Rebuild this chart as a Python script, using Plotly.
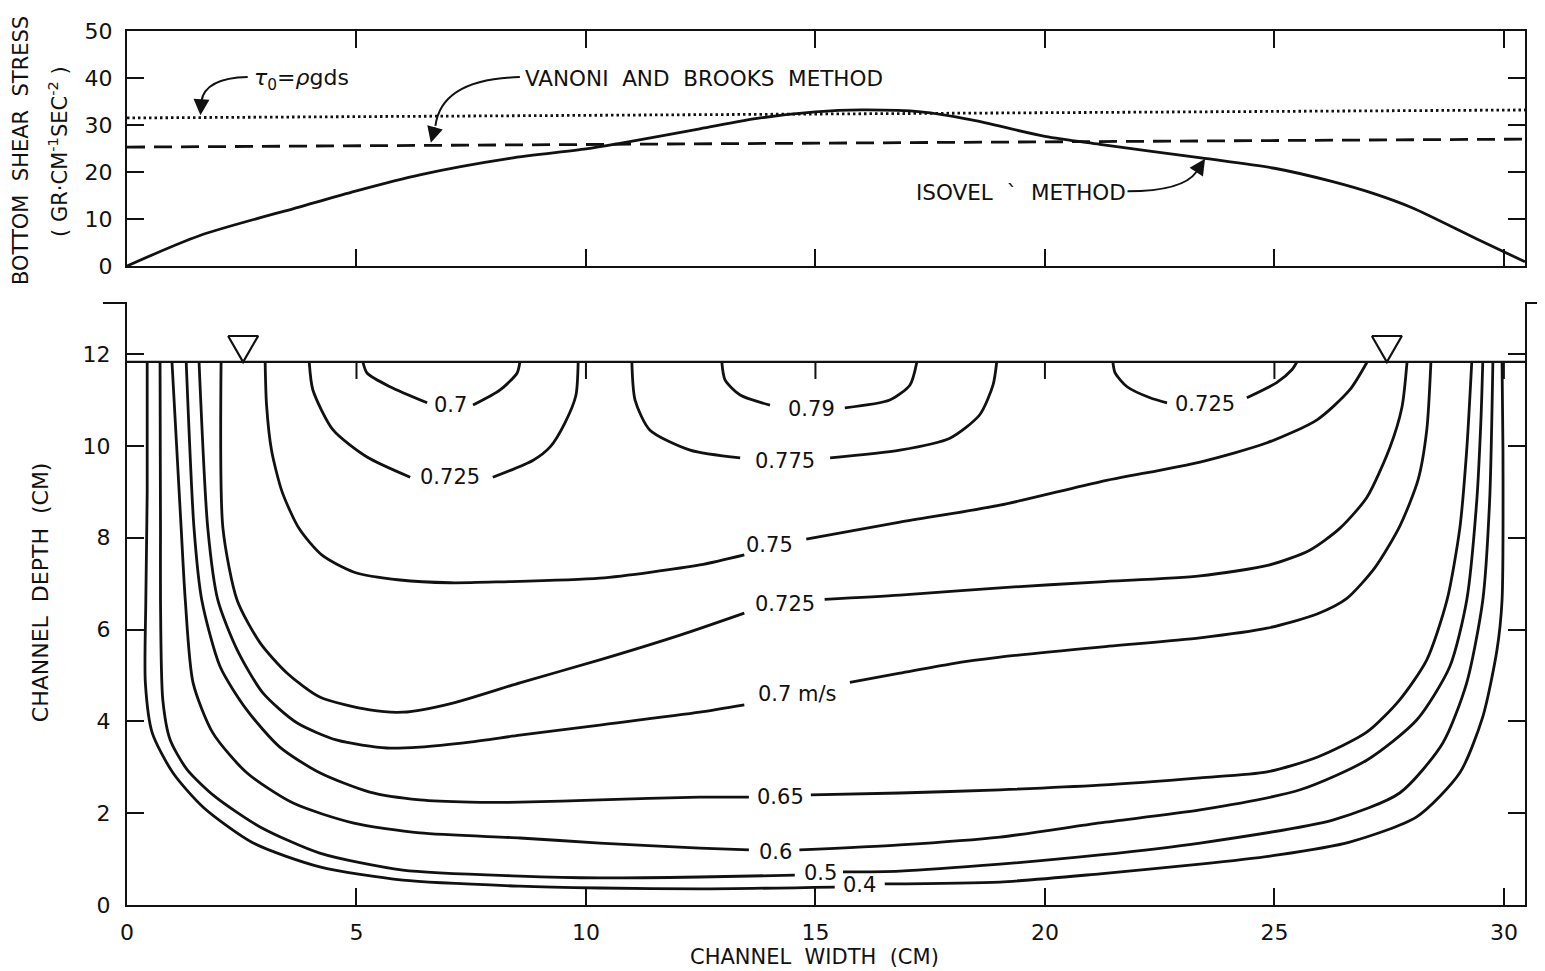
import plotly.graph_objects as go

# ---------------- data ----------------
width_ticks = [0, 5, 10, 15, 20, 25, 30]
shear_ticks = [0, 10, 20, 30, 40, 50]
depth_ticks = [0, 2, 4, 6, 8, 10, 12]
x_max = 30.46

# top panel: bottom shear stress (isovel method)
shear_x = [0, 1.59, 3.77, 5.0, 6.38, 8.34, 10.0, 10.74, 12.48, 13.8, 15.0, 16.0, 17.3, 18.4, 20.0, 21.2, 23.4, 25.0, 26.25, 27.2, 28.0, 29.4, 30.46]
shear_y = [0, 6.5, 12.6, 16.0, 19.4, 22.9, 24.9, 26.1, 29.2, 31.5, 32.8, 33.2, 32.8, 31.1, 27.6, 25.9, 23.0, 20.8, 18.0, 15.3, 12.4, 5.8, 0.9]
tau_x = [0, x_max]
tau_y = [31.5, 33.2]          # tau0 = rho g d s
vb_x = [0, x_max]
vb_y = [25.3, 27.0]           # Vanoni and Brooks method

# bottom panel: isovels (x = width cm, d = depth cm); None = gap for label
water_surface = 11.83
surface_marker_x = [2.53, 27.45]

iso_040_x = [0.44, 0.44, 0.41, 0.40, 0.55, 1.00, 1.66, 2.75, 4.20, 6.01, 8.56, 10.30, 12.48, 15.42, None,
             16.51, 19.02, 21.20, 23.38, 25.08, 26.64, 28.10, 29.04, 29.54, 29.85, 29.96, 29.98, 29.96]
iso_040_d = [11.83, 9.0, 6.64, 4.84, 3.75, 2.88, 2.13, 1.35, 0.83, 0.54, 0.41, 0.37, 0.35, 0.39, None,
             0.46, 0.50, 0.68, 0.89, 1.09, 1.37, 1.92, 2.88, 4.10, 5.56, 6.64, 9.91, 11.83]

iso_050_x = [0.72, 0.73, 0.73, 0.78, 0.94, 1.31, 1.92, 2.90, 4.20, 6.01, 8.56, 10.30, 12.48, 14.55, None,
             15.60, 16.84, 19.02, 21.20, 23.38, 26.27, 27.73, 28.67, 29.19, 29.54, 29.69, 29.76]
iso_050_d = [11.83, 8.21, 6.64, 4.47, 3.60, 2.95, 2.36, 1.70, 1.13, 0.76, 0.63, 0.59, 0.61, 0.65, None,
             0.72, 0.74, 0.89, 1.09, 1.35, 1.85, 2.44, 3.53, 4.84, 6.64, 8.82, 11.83]

iso_060_x = [0.98, 1.18, 1.27, 1.44, 1.87, 2.61, 3.62, 4.92, 6.38, 8.56, 10.30, 12.48, 13.55, None,
             14.65, 16.84, 19.02, 21.20, 23.38, 25.56, 27.02, 28.10, 28.82, 29.19, 29.41, 29.50, 29.54]
iso_060_d = [11.83, 8.21, 6.64, 4.84, 3.75, 2.88, 2.22, 1.79, 1.57, 1.46, 1.35, 1.24, 1.20, None,
             1.20, 1.31, 1.48, 1.79, 2.07, 2.51, 3.16, 4.03, 5.19, 6.64, 8.82, 10.57, 11.83]

iso_065_x = [1.29, 1.46, 1.63, 2.03, 2.61, 3.33, 4.20, 5.29, 6.38, 7.47, 8.56, 10.30, 12.48, 13.55, None,
             14.90, 16.84, 19.02, 21.20, 23.38, 24.84, 25.93, 27.02, 27.73, 28.32, 28.76, 29.04, 29.19, 29.30]
iso_065_d = [11.83, 8.21, 6.64, 5.19, 4.25, 3.44, 2.88, 2.46, 2.29, 2.24, 2.24, 2.29, 2.35, 2.35, None,
             2.40, 2.44, 2.51, 2.61, 2.77, 2.90, 3.22, 3.77, 4.47, 5.34, 6.64, 8.21, 9.91, 11.83]

iso_070_x = [1.57, 1.76, 1.98, 2.40, 2.96, 3.70, 4.58, 5.66, 6.38, 7.47, 8.56, 10.30, 12.48, 13.45, None,
             15.75, 16.84, 17.93, 19.02, 21.20, 23.38, 24.84, 25.93, 26.58, 27.19, 27.73, 28.13, 28.32, 28.41]
iso_070_d = [11.83, 8.21, 6.64, 5.56, 4.62, 3.97, 3.59, 3.42, 3.44, 3.55, 3.70, 3.92, 4.20, 4.36, None,
             4.85, 5.05, 5.25, 5.40, 5.62, 5.82, 6.03, 6.34, 6.68, 7.35, 8.25, 9.26, 10.35, 11.83]

iso_0725a_x = [2.05, 2.09, 2.40, 2.90, 3.49, 4.20, 5.29, 6.01, 7.10, 8.56, 10.30, 12.05, 13.45, None,
               15.20, 16.84, 19.02, 21.20, 23.38, 24.90, 25.77, 26.43, 27.02, 27.52, 27.78, 27.89]
iso_0725a_d = [11.83, 8.21, 6.64, 5.71, 5.05, 4.53, 4.25, 4.20, 4.40, 4.84, 5.34, 5.88, 6.36, None,
               6.66, 6.75, 6.91, 7.04, 7.17, 7.41, 7.73, 8.21, 8.89, 9.98, 10.85, 11.83]

iso_075_x = [3.01, 3.04, 3.15, 3.38, 3.75, 4.25, 4.95, 5.95, 7.04, 8.13, 10.30, 12.48, 13.45, None,
             14.80, 16.84, 19.02, 21.20, 23.38, 24.84, 25.93, 26.64, 27.02]
iso_075_d = [11.83, 10.90, 9.90, 9.00, 8.20, 7.62, 7.25, 7.08, 7.02, 7.04, 7.12, 7.41, 7.63, None,
             7.97, 8.34, 8.71, 9.22, 9.65, 10.07, 10.57, 11.22, 11.83]

iso_0725b_x = [3.97, 4.05, 4.49, 5.23, 6.17, None, 7.97, 8.85, 9.22, 9.54, 9.78, 9.83]
iso_0725b_d = [11.83, 11.22, 10.35, 9.76, 9.32, None, 9.32, 9.69, 9.98, 10.50, 11.10, 11.83]

iso_070b_x = [5.14, 5.23, 5.73, 6.54, None, 7.54, 8.13, 8.50, 8.56]
iso_070b_d = [11.83, 11.59, 11.29, 10.94, None, 10.89, 11.22, 11.59, 11.83]

iso_0775_x = [11.00, 11.07, 11.39, 12.27, 13.36, None, 15.32, 16.84, 17.93, 18.58, 18.87, 18.95]
iso_0775_d = [11.83, 11.00, 10.35, 9.91, 9.74, None, 9.74, 9.91, 10.17, 10.68, 11.33, 11.83]

iso_079_x = [12.96, 13.03, 13.36, 14.01, None, 15.64, 16.62, 17.06, 17.21]
iso_079_d = [11.83, 11.44, 11.11, 10.89, None, 10.83, 11.00, 11.33, 11.83]

iso_0725c_x = [21.48, 21.53, 21.79, 22.29, 22.66, None, 24.40, 25.05, 25.38, 25.49]
iso_0725c_d = [11.83, 11.59, 11.29, 11.05, 10.94, None, 11.05, 11.38, 11.66, 11.83]

iso_labels = ["0.4", "0.5", "0.6", "0.65", "0.7 m/s", "0.725", "0.75", "0.725", "0.7", "0.775", "0.79", "0.725"]
iso_label_x = [15.97, 15.10, 14.12, 14.23, 14.60, 14.34, 14.00, 7.04, 7.04, 14.34, 14.92, 23.49]
iso_label_d = [0.44, 0.70, 1.15, 2.35, 4.60, 6.56, 7.84, 9.32, 10.89, 9.67, 10.81, 10.92]

isovels = [(iso_040_x, iso_040_d), (iso_050_x, iso_050_d), (iso_060_x, iso_060_d),
           (iso_065_x, iso_065_d), (iso_070_x, iso_070_d), (iso_0725a_x, iso_0725a_d),
           (iso_075_x, iso_075_d), (iso_0725b_x, iso_0725b_d), (iso_070b_x, iso_070b_d),
           (iso_0775_x, iso_0775_d), (iso_079_x, iso_079_d), (iso_0725c_x, iso_0725c_d)]

# ---------------- figure ----------------
FONT = "DejaVu Sans"
BLACK = "#111111"
LW = 2.8

fig = go.Figure()

# top panel
fig.add_trace(go.Scatter(x=tau_x, y=tau_y, mode="lines", xaxis="x", yaxis="y",
                         line=dict(color=BLACK, width=2.8, dash="2.5px,3px")))
fig.add_trace(go.Scatter(x=vb_x, y=vb_y, mode="lines", xaxis="x", yaxis="y",
                         line=dict(color=BLACK, width=2.8, dash="18px,9px")))
fig.add_trace(go.Scatter(x=shear_x, y=shear_y, mode="lines", xaxis="x", yaxis="y",
                         line=dict(color=BLACK, width=LW, shape="spline", smoothing=0.8)))

# bottom panel isovels
for xs, ds in isovels:
    fig.add_trace(go.Scatter(x=xs, y=ds, mode="lines", xaxis="x2", yaxis="y2",
                             connectgaps=False,
                             line=dict(color=BLACK, width=LW, shape="spline", smoothing=0.7)))

# water surface line with its ticks
fig.add_trace(go.Scatter(x=[0, x_max], y=[water_surface, water_surface], mode="lines",
                         xaxis="x2", yaxis="y2", line=dict(color=BLACK, width=2.2)))
tick_len_d = 0.37
sx, sy = [], []
for t in width_ticks[1:]:
    sx += [t, t, None]
    sy += [water_surface, water_surface - tick_len_d, None]
fig.add_trace(go.Scatter(x=sx, y=sy, mode="lines", xaxis="x2", yaxis="y2",
                         line=dict(color=BLACK, width=2)))

# water-surface triangles
hw, th = 0.327, 0.566
for xm in surface_marker_x:
    fig.add_trace(go.Scatter(x=[xm - hw, xm + hw, xm, xm - hw],
                             y=[water_surface + th, water_surface + th, water_surface, water_surface + th],
                             mode="lines", xaxis="x2", yaxis="y2",
                             line=dict(color=BLACK, width=2.2)))

annotations = []
for txt, lx, ld in zip(iso_labels, iso_label_x, iso_label_d):
    annotations.append(dict(x=lx, y=ld, xref="x2", yref="y2", text=txt, showarrow=False,
                            xanchor="center", yanchor="middle",
                            font=dict(family=FONT, size=21, color=BLACK)))

# top panel texts
annotations += [
    dict(x=2.72, y=39.6, xref="x", yref="y", xanchor="left", yanchor="middle", showarrow=False,
         text="<i>τ</i><sub>0</sub>=<i>ρ</i>gds", font=dict(family=FONT, size=22, color=BLACK)),
    dict(x=8.63, y=40.0, xref="x", yref="y", xanchor="left", yanchor="middle", showarrow=False,
         text="VANONI  AND  BROOKS  METHOD", font=dict(family=FONT, size=21.5, color=BLACK)),
    dict(x=17.15, y=15.7, xref="x", yref="y", xanchor="left", yanchor="middle", showarrow=False,
         text="ISOVEL  `  METHOD", font=dict(family=FONT, size=21.5, color=BLACK)),
]

# curved arrows: bezier paths + arrow heads
arrows = [  # start, control, end(tail of head), tip
    ((2.63, 40.2), (1.70, 40.0), (1.62, 35.0), (1.60, 32.1)),
    ((8.56, 40.2), (6.85, 39.8), (6.72, 29.8), (6.62, 26.2)),
    ((21.80, 15.9), (23.0, 15.9), (23.30, 20.0), (23.49, 22.8)),
]
shapes = []
for (s, c, e, tip) in arrows:
    shapes.append(dict(type="path", xref="x", yref="y",
                       path=f"M {s[0]},{s[1]} Q {c[0]},{c[1]} {e[0]},{e[1]}",
                       line=dict(color=BLACK, width=2)))
    annotations.append(dict(x=tip[0], y=tip[1], ax=e[0], ay=e[1], xref="x", yref="y",
                            axref="x", ayref="y", text="", showarrow=True,
                            arrowhead=2, arrowsize=1.6, arrowwidth=2, arrowcolor=BLACK))

# axis titles
annotations += [
    dict(x=-0.0758, y=0.8627, xref="paper", yref="paper", textangle=-90, showarrow=False,
         xanchor="center", yanchor="middle",
         text="BOTTOM  SHEAR  STRESS", font=dict(family=FONT, size=21, color=BLACK)),
    dict(x=-0.0494, y=0.8627, xref="paper", yref="paper", textangle=-90, showarrow=False,
         xanchor="center", yanchor="middle",
         text="( GR·CM<sup>-1</sup>SEC<sup>-2</sup> )", font=dict(family=FONT, size=21, color=BLACK)),
    dict(x=-0.0622, y=0.358, xref="paper", yref="paper", textangle=-90, showarrow=False,
         xanchor="center", yanchor="middle",
         text="CHANNEL  DEPTH  (CM)", font=dict(family=FONT, size=22, color=BLACK)),
    dict(x=0.4921, y=-0.0595, xref="paper", yref="paper", showarrow=False,
         xanchor="center", yanchor="middle",
         text="CHANNEL  WIDTH  (CM)", font=dict(family=FONT, size=21, color=BLACK)),
]

# small stubs at the top of the lower frame
bot_top = 0.6888
shapes += [
    dict(type="line", xref="paper", yref="paper", x0=-0.0172, x1=0, y0=bot_top, y1=bot_top,
         line=dict(color=BLACK, width=2)),
    dict(type="line", xref="paper", yref="paper", x0=1, x1=1.0143, y0=bot_top, y1=bot_top,
         line=dict(color=BLACK, width=2)),
]

axis_common = dict(showline=True, linecolor=BLACK, linewidth=2.2, ticks="inside", ticklen=17,
                   tickwidth=2, tickcolor=BLACK, showgrid=False, zeroline=False,
                   tickfont=dict(family=FONT, size=22, color=BLACK))

fig.update_layout(
    width=1545, height=971, autosize=False,
    margin=dict(l=119, r=28, t=23, b=74),
    paper_bgcolor="white", plot_bgcolor="white",
    showlegend=False,
    font=dict(family=FONT, color=BLACK),
    xaxis=dict(domain=[0, 1], anchor="y", range=[0, x_max], tickvals=width_ticks,
               showticklabels=False, mirror="ticks", **axis_common),
    yaxis=dict(domain=[0.7311, 1], anchor="x", range=[0, 50], tickvals=shear_ticks,
               mirror="ticks", ticklabelstandoff=8, **axis_common),
    xaxis2=dict(domain=[0, 1], anchor="y2", range=[0, x_max], tickvals=width_ticks,
                ticklabelstandoff=6, **axis_common),
    yaxis2=dict(domain=[0, bot_top], anchor="x2", range=[0, 13.115], tickvals=depth_ticks,
                mirror="ticks", ticklabelstandoff=10, **axis_common),
    annotations=annotations,
    shapes=shapes,
)

fig.write_html("out.html")
